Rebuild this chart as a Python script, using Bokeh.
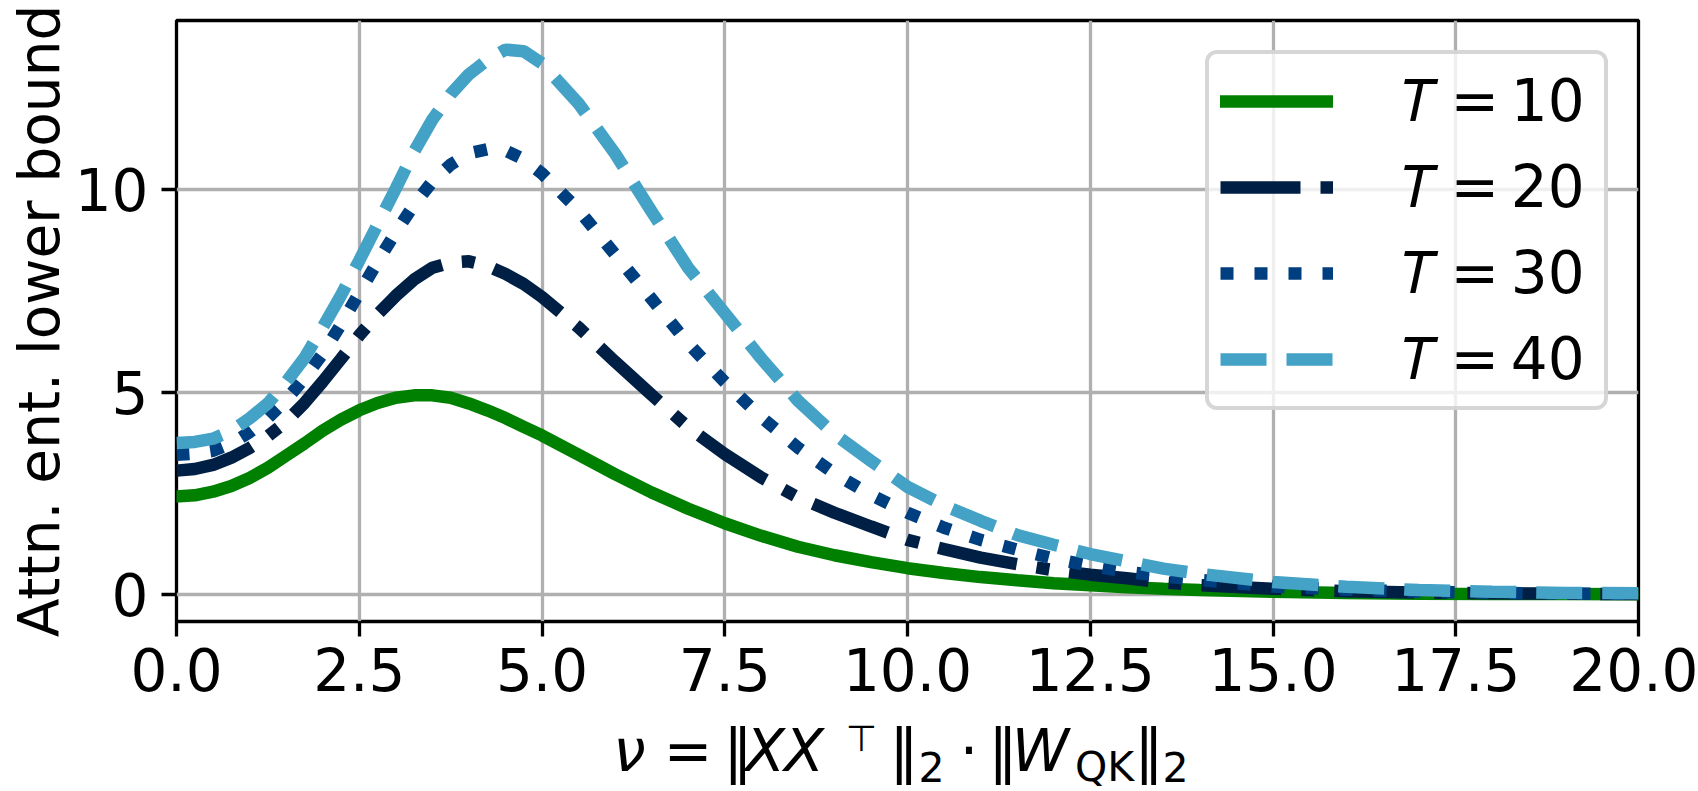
from bokeh.plotting import figure
from bokeh.layouts import column
from bokeh.models import Range1d, FixedTicker, Label, Legend, LegendItem
from bokeh.embed import file_html
from bokeh.resources import INLINE

# ---- data ----
nu = [0, 0.25, 0.5, 0.75, 1, 1.25, 1.5, 1.75, 2, 2.25, 2.5, 2.75, 3, 3.25, 3.5, 3.75,
      4, 4.25, 4.5, 4.75, 5, 5.5, 6, 6.5, 7, 7.5, 8, 8.5, 9, 9.5, 10, 10.5, 11, 11.5,
      12, 12.5, 13, 13.5, 14, 15, 16, 17, 18, 19, 20]
ent_T10 = [2.42, 2.45, 2.54, 2.68, 2.88, 3.13, 3.43, 3.73, 4.05, 4.32, 4.55, 4.73, 4.86,
           4.92, 4.92, 4.86, 4.72, 4.55, 4.36, 4.14, 3.93, 3.45, 2.97, 2.52, 2.12, 1.76,
           1.45, 1.18, 0.97, 0.80, 0.65, 0.53, 0.43, 0.35, 0.28, 0.23, 0.18, 0.14, 0.11,
           0.07, 0.04, 0.02, 0.015, 0.01, 0.005]
ent_T20 = [3.06, 3.1, 3.2, 3.38, 3.62, 3.91, 4.27, 4.73, 5.26, 5.82, 6.4, 6.92, 7.38,
           7.78, 8.07, 8.2, 8.23, 8.12, 7.92, 7.67, 7.35, 6.6, 5.75, 4.93, 4.13, 3.47,
           2.89, 2.4, 2.02, 1.68, 1.35, 1.12, 0.91, 0.75, 0.6, 0.49, 0.4, 0.3, 0.23,
           0.14, 0.08, 0.05, 0.03, 0.02, 0.01]
ent_T30 = [3.45, 3.48, 3.55, 3.73, 4.01, 4.36, 4.81, 5.34, 5.95, 6.67, 7.45, 8.22, 8.95,
           9.63, 10.2, 10.62, 10.9, 11.0, 10.97, 10.75, 10.4, 9.5, 8.4, 7.3, 6.2, 5.25,
           4.38, 3.63, 2.99, 2.46, 2.02, 1.65, 1.35, 1.11, 0.89, 0.71, 0.56, 0.45, 0.36,
           0.2, 0.12, 0.07, 0.04, 0.025, 0.015]
ent_T40 = [3.74, 3.77, 3.85, 4.04, 4.35, 4.72, 5.25, 5.84, 6.6, 7.39, 8.25, 9.14, 10.03,
           10.94, 11.73, 12.36, 12.85, 13.2, 13.46, 13.42, 13.12, 12.13, 10.89, 9.46,
           8.07, 6.95, 5.83, 4.79, 3.96, 3.3, 2.66, 2.2, 1.82, 1.47, 1.23, 1.0, 0.82,
           0.64, 0.51, 0.31, 0.19, 0.11, 0.07, 0.04, 0.03]
series_labels = ["\U0001D447\u2009=\u200910", "\U0001D447\u2009=\u200920",
                 "\U0001D447\u2009=\u200930", "\U0001D447\u2009=\u200940"]
x_ticks = [0, 2.5, 5, 7.5, 10, 12.5, 15, 17.5, 20]
x_tick_labels = ["0.0", "2.5", "5.0", "7.5", "10.0", "12.5", "15.0", "17.5", "20.0"]
y_ticks = [0, 5, 10]
y_tick_labels = ["0", "5", "10"]
y_label = "Attn. ent. lower bound"

FONT = "DejaVu Sans"
FS = "58px"
FS_SUB = "41px"
W, H = 1698, 791
FL, FR = 176, 60     # left / right borders of the plot frame
BOTTOM_H = 76        # strip holding the x-axis label
MAIN_H = H - BOTTOM_H

# ---- main plot ----
p = figure(width=W, height=MAIN_H, output_backend="svg",
           toolbar_location=None, title=None,
           x_range=Range1d(0, 20), y_range=Range1d(-0.667, 14.18),
           min_border_left=FL, min_border_right=FR, min_border_top=20,
           min_border_bottom=MAIN_H - 621)
p.background_fill_color = "white"
p.border_fill_color = "white"
p.outline_line_color = "black"
p.outline_line_width = 3.3

for ax in (p.xaxis[0], p.yaxis[0]):
    ax.axis_line_color = None
    ax.major_tick_line_width = 3.3
    ax.major_tick_line_color = "black"
    ax.major_tick_out = 15
    ax.major_tick_in = 0
    ax.minor_tick_line_color = None
    ax.major_label_text_font = FONT
    ax.major_label_text_font_size = FS
    ax.major_label_text_color = "black"

p.xaxis.ticker = FixedTicker(ticks=x_ticks)
p.xaxis.major_label_overrides = {t: s for t, s in zip(x_ticks, x_tick_labels)}
p.xaxis.major_label_standoff = 11
p.yaxis.ticker = FixedTicker(ticks=y_ticks)
p.yaxis.major_label_overrides = {t: s for t, s in zip(y_ticks, y_tick_labels)}
p.yaxis.major_label_standoff = 13
p.yaxis.axis_label = y_label
p.yaxis.axis_label_text_font = FONT
p.yaxis.axis_label_text_font_size = "56.5px"
p.yaxis.axis_label_text_font_style = "normal"
p.yaxis.axis_label_text_color = "black"
p.yaxis.axis_label_standoff = 0

p.grid.grid_line_color = "#b0b0b0"
p.grid.grid_line_width = 3.3

LW = 12.5
r10 = p.line(nu, ent_T10, line_color="#008000", line_width=LW, line_cap="square")
r20 = p.line(nu, ent_T20, line_color="#001f44", line_width=LW, line_dash="80 20 13 20")
r30 = p.line(nu, ent_T30, line_color="#003f7f", line_width=LW, line_dash="13 21")
r40 = p.line(nu, ent_T40, line_color="#43a2c5", line_width=LW, line_dash="46 20")

legend = Legend(items=[LegendItem(label=lab, renderers=[r])
                       for lab, r in zip(series_labels, [r10, r20, r30, r40])],
                location="top_right", margin=30, padding=11, spacing=14,
                glyph_width=113, glyph_height=72, label_standoff=69, label_width=191,
                label_text_font=FONT, label_text_font_size=FS,
                label_text_color="black",
                border_line_color="#cccccc", border_line_alpha=0.8,
                border_line_width=4, background_fill_color="white",
                background_fill_alpha=0.8)
if "border_radius" in Legend.properties():
    legend.border_radius = 12
p.add_layout(legend, "center")

# ---- x-axis label strip, typeset in pieces ----
pb = figure(width=W, height=BOTTOM_H, output_backend="svg", toolbar_location=None,
            title=None, x_axis_type=None, y_axis_type=None,
            x_range=Range1d(0, 1), y_range=Range1d(0, 1), min_border=0,
            min_border_left=FL, min_border_right=FR, outline_line_color=None)
pb.grid.visible = False
pb.background_fill_color = "white"
pb.border_fill_color = "white"

# (text, italic, size, x centre on page, baseline y on page)
xlabel_pieces = [
    ("ν", True, FS, 629, 750),
    ("=", False, FS, 687.5, 750),
    ("‖", False, FS, 737.5, 750),
    ("X", True, FS, 764.5, 750),
    ("X", True, FS, 803.5, 750),
    ("⊤", False, "36px", 861, 738),
    ("‖", False, FS, 903.5, 750),
    ("2", False, FS_SUB, 931, 766),
    ("·", False, FS, 968.5, 750),
    ("‖", False, FS, 1002.5, 750),
    ("W", True, FS, 1040, 750),
    ("QK", False, FS_SUB, 1104, 766),
    ("‖", False, FS, 1148.5, 750),
    ("2", False, FS_SUB, 1175, 766),
]
for txt, ital, size, xc, yb in xlabel_pieces:
    pb.add_layout(Label(x=xc - FL, y=H - yb, x_units="screen", y_units="screen",
                        text=txt, text_font=FONT, text_font_size=size,
                        text_font_style="italic" if ital else "normal",
                        text_align="center", text_baseline="alphabetic",
                        text_color="black"))

layout = column(p, pb)
open("out.html", "w").write(file_html(layout, INLINE))
